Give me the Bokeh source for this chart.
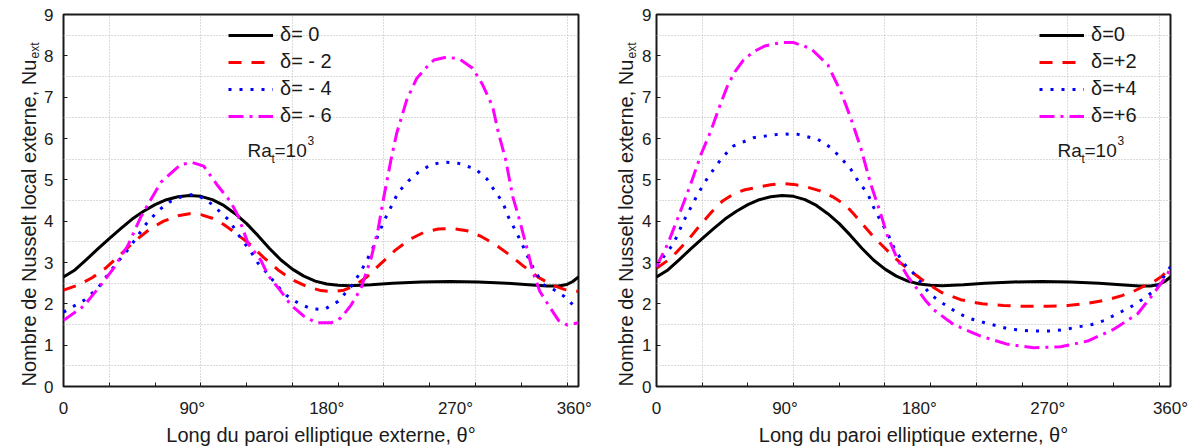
import math
from bokeh.plotting import figure
from bokeh.layouts import row
from bokeh.models import FixedTicker, Legend, LegendItem, Label, Range1d
from bokeh.embed import file_html
from bokeh.resources import INLINE

FONT = "Liberation Sans"

# ---------------- data (theta in degrees along the wall, Nu_ext) ----------------
# delta = 0 (same curve on both panels)
theta_d0 = [0, 8, 16, 24, 32, 40, 48, 56, 64, 72, 80, 88, 96, 104, 112, 120, 128, 136, 144, 152,
            160, 168, 176, 184, 192, 200, 215, 230, 250, 270, 290, 310, 325, 338, 346, 352, 356, 360]
nu_d0 = [2.65, 2.82, 3.07, 3.33, 3.58, 3.82, 4.05, 4.24, 4.40, 4.52, 4.59, 4.62, 4.60, 4.52, 4.38, 4.18,
         3.94, 3.65, 3.34, 3.06, 2.84, 2.67, 2.55, 2.48, 2.45, 2.44, 2.46, 2.50, 2.53, 2.54, 2.53, 2.50,
         2.46, 2.43, 2.43, 2.47, 2.54, 2.65]

# delta = -2
theta_m2 = [0, 10, 20, 30, 40, 50, 60, 70, 80, 88, 96, 104, 112, 120, 130, 140, 150, 160, 170, 180,
            188, 196, 204, 212, 222, 232, 242, 252, 262, 272, 282, 292, 302, 312, 322, 332, 342, 350, 360]
nu_m2 = [2.33, 2.45, 2.63, 2.88, 3.20, 3.52, 3.80, 4.00, 4.13, 4.18, 4.16, 4.07, 3.92, 3.72, 3.45, 3.12,
         2.82, 2.58, 2.42, 2.32, 2.29, 2.33, 2.45, 2.65, 2.98, 3.30, 3.56, 3.73, 3.81, 3.82, 3.77, 3.63,
         3.43, 3.18, 2.90, 2.64, 2.45, 2.35, 2.30]

# delta = -4
theta_m4 = [0, 7, 15, 24, 33, 40, 46, 57, 66, 75, 83, 91, 100, 108, 115, 119, 124, 131, 136, 143, 149,
            156, 164, 173, 182, 192, 201, 206, 211, 216, 224, 234, 241, 248, 257, 266, 276, 288, 296,
            302, 307, 311, 316, 321, 325, 330, 336, 342, 350, 360]
nu_m4 = [1.80, 1.94, 2.10, 2.38, 2.80, 3.10, 3.35, 3.90, 4.25, 4.48, 4.60, 4.65, 4.52, 4.27, 4.05, 3.85,
         3.58, 3.26, 2.98, 2.72, 2.45, 2.20, 2.02, 1.88, 1.86, 2.06, 2.42, 2.68, 2.98, 3.33, 4.00, 4.70,
         4.97, 5.18, 5.37, 5.43, 5.40, 5.26, 5.02, 4.70, 4.46, 4.10, 3.77, 3.41, 3.10, 2.76, 2.45, 2.36,
         2.18, 1.85]

# delta = -6
theta_m6 = [0, 14, 26, 35, 45, 54, 68, 82, 90, 98, 108, 117, 122, 129, 138, 143, 152, 159, 168, 177,
            187, 194, 201, 208, 215, 220, 224, 229, 233, 240, 247, 254, 259, 268, 277, 286, 293, 300,
            304, 309, 314, 319, 324, 328, 333, 339, 346, 352, 360]
nu_m6 = [1.60, 1.94, 2.45, 2.86, 3.41, 4.10, 4.94, 5.37, 5.42, 5.33, 4.85, 4.46, 4.13, 3.46, 3.05, 2.69,
         2.30, 1.97, 1.70, 1.54, 1.54, 1.66, 1.97, 2.38, 3.10, 3.82, 4.60, 5.50, 6.14, 6.94, 7.46, 7.73,
         7.90, 7.97, 7.92, 7.70, 7.30, 6.77, 6.14, 5.50, 4.60, 4.00, 3.34, 2.78, 2.30, 1.97, 1.60, 1.49,
         1.54]

# delta = +2
theta_p2 = [0, 10, 22, 30, 38, 46, 54, 62, 71, 80, 88, 96, 104, 114, 124, 132, 138, 145, 152, 159, 166,
            173, 180, 187, 193, 200, 213, 228, 243, 258, 274, 288, 300, 316, 326, 334, 341, 348, 354, 358, 360]
nu_p2 = [2.86, 3.10, 3.54, 3.88, 4.20, 4.48, 4.66, 4.76, 4.82, 4.88, 4.91, 4.89, 4.84, 4.74, 4.58, 4.40,
         4.18, 3.90, 3.62, 3.38, 3.14, 2.93, 2.74, 2.56, 2.42, 2.27, 2.10, 2.00, 1.96, 1.94, 1.94, 1.96,
         2.00, 2.10, 2.20, 2.30, 2.42, 2.53, 2.67, 2.80, 2.88]

# delta = +4
theta_p4 = [0, 5, 12, 19, 29, 36, 46, 54, 68, 87, 99, 113, 122, 129, 136, 141, 148, 152, 157, 162, 166,
            173, 180, 192, 201, 211, 220, 228, 237, 246, 255, 264, 276, 286, 295, 305, 314, 322, 331, 340,
            348, 355, 360]
nu_p4 = [2.90, 3.14, 3.46, 4.00, 4.66, 5.06, 5.54, 5.82, 6.02, 6.11, 6.10, 5.98, 5.78, 5.54, 5.26, 4.98,
         4.66, 4.34, 4.00, 3.70, 3.38, 2.98, 2.74, 2.22, 2.00, 1.78, 1.64, 1.56, 1.48, 1.40, 1.36, 1.34,
         1.34, 1.38, 1.44, 1.50, 1.60, 1.75, 1.90, 2.10, 2.30, 2.64, 2.90]

# delta = +6
theta_p6 = [0, 8, 17, 24, 31, 38, 45, 50, 55, 61, 68, 76, 87, 96, 108, 120, 129, 136, 143, 150, 157, 162,
            169, 176, 183, 188, 194, 208, 227, 246, 264, 283, 302, 320, 337, 348, 358, 360]
nu_p6 = [2.90, 3.46, 4.26, 4.90, 5.60, 6.18, 6.85, 7.30, 7.62, 7.90, 8.10, 8.24, 8.32, 8.32, 8.18, 7.78,
         7.14, 6.50, 5.78, 4.90, 4.18, 3.62, 3.06, 2.66, 2.34, 2.10, 1.86, 1.50, 1.22, 1.02, 0.94, 0.96,
         1.10, 1.38, 1.76, 2.24, 2.72, 2.90]

y_tick_values = [0, 1, 2, 3, 4, 5, 6, 7, 8, 9]
x_tick_texts = ["0", "90°", "180°", "270°", "360°"]
x_tick_pos_left = [0, 90, 184, 274, 357]
x_tick_pos_right = [0, 90, 184, 274, 360]
legend_left = ["δ= 0", "δ= - 2", "δ= - 4", "δ= - 6"]
legend_right = ["δ=0", "δ=+2", "δ=+4", "δ=+6"]
y_title = "Nombre de Nusselt local externe, Nu"
y_title_sub = "ext"
x_title = "Long du paroi elliptique externe, θ°"

COLORS = ["#000000", "#FF0000", "#0000FF", "#FF00FF"]
DASHES = ["solid", "13 10", "3 8", "15 6 3 6"]

x_minor = [32 * i for i in range(1, 12)]
x_grid = [32, 96, 160, 224, 288, 352]
y_grid = [0.5 + i for i in range(9)]

TXT = "#1a1a1a"


def title_strip(width, base_x, sub_x):
    """Narrow strip holding the rotated y-axis title (with subscript)."""
    s = figure(width=width, height=448, x_range=Range1d(0, 1), y_range=Range1d(0, 1),
               x_axis_type=None, y_axis_type=None, output_backend="svg", toolbar_location=None,
               min_border=0)
    s.outline_line_color = None
    s.background_fill_color = "white"
    s.border_fill_color = "white"
    common = dict(x_units="screen", y_units="screen", text_font=FONT, text_color=TXT,
                  text_align="left", text_baseline="alphabetic", angle=math.pi / 2)
    s.add_layout(Label(x=base_x, y=0, text=y_title, text_font_size="20px", **common))
    s.add_layout(Label(x=sub_x, y=328, text=y_title_sub, text_font_size="12px", **common))
    return s


def make_fig(width, bl, br, tick_pos, series, labels, leg_x, ra_x, ylab_standoff):
    p = figure(width=width, height=448, x_range=Range1d(0, 360), y_range=Range1d(0, 9),
               output_backend="svg", toolbar_location=None,
               min_border_left=bl, min_border_right=br, min_border_top=14, min_border_bottom=59)
    p.background_fill_color = "white"
    p.border_fill_color = "white"
    p.outline_line_color = TXT
    p.outline_line_width = 2

    p.xaxis.ticker = FixedTicker(ticks=tick_pos, minor_ticks=x_minor)
    p.xaxis.major_label_overrides = {t: s for t, s in zip(tick_pos, x_tick_texts)}
    p.xaxis.major_tick_line_color = None
    p.xaxis.minor_tick_in = 4
    p.xaxis.minor_tick_out = 0
    p.xaxis.minor_tick_line_color = TXT
    p.xaxis.major_label_standoff = 6
    p.xaxis.axis_label = x_title
    p.xaxis.axis_label_standoff = 3

    p.yaxis.ticker = FixedTicker(ticks=y_tick_values)
    p.yaxis.major_tick_in = 4
    p.yaxis.major_tick_out = 0
    p.yaxis.major_tick_line_color = TXT
    p.yaxis.minor_tick_line_color = None
    p.yaxis.major_label_standoff = ylab_standoff

    for ax in (p.xaxis[0], p.yaxis[0]):
        ax.axis_line_color = None
        ax.major_label_text_font = FONT
        ax.major_label_text_font_size = "17px"
        ax.major_label_text_color = TXT
        ax.axis_label_text_font = FONT
        ax.axis_label_text_font_size = "20px"
        ax.axis_label_text_font_style = "normal"
        ax.axis_label_text_color = TXT

    p.xgrid.ticker = FixedTicker(ticks=x_grid)
    p.ygrid.ticker = FixedTicker(ticks=y_grid)
    for g in (p.xgrid[0], p.ygrid[0]):
        g.grid_line_color = "#b4b4b4"
        g.grid_line_dash = "1 2"
        g.grid_line_width = 1

    items = []
    for (xs, ys), col, dash, lab in zip(series, COLORS, DASHES, labels):
        r = p.line(xs, ys, line_color=col, line_width=3, line_dash=dash, line_join="round")
        items.append(LegendItem(label=lab, renderers=[r]))

    leg = Legend(items=items, location=(leg_x, 259), glyph_width=45, glyph_height=20,
                 label_height=20, label_standoff=7, spacing=4, padding=0, margin=0,
                 border_line_color=None, background_fill_alpha=0,
                 label_text_font=FONT, label_text_font_size="20px", label_text_color=TXT)
    p.add_layout(leg)

    common = dict(x_units="screen", y_units="screen", text_font=FONT, text_color=TXT,
                  text_align="left", text_baseline="alphabetic")
    p.add_layout(Label(x=ra_x, y=236, text="Ra", text_font_size="19px", **common))
    p.add_layout(Label(x=ra_x + 24, y=228, text="t", text_font_size="12px", **common))
    p.add_layout(Label(x=ra_x + 27, y=236, text="=10", text_font_size="19px", **common))
    p.add_layout(Label(x=ra_x + 60, y=246, text="3", text_font_size="12px", **common))
    return p


left_series = [(theta_d0, nu_d0), (theta_m2, nu_m2), (theta_m4, nu_m4), (theta_m6, nu_m6)]
right_series = [(theta_d0, nu_d0), (theta_p2, nu_p2), (theta_p4, nu_p4), (theta_p6, nu_p6)]

s1 = title_strip(41, 28, 34)
p1 = make_fig(559, 22, 22, x_tick_pos_left, left_series, legend_left, 165, 184, 10)
s2 = title_strip(39, 25, 31)
p2 = make_fig(564, 17, 33, x_tick_pos_right, right_series, legend_right, 383, 401, 5)

layout = row(s1, p1, s2, p2)
open("out.html", "w").write(file_html(layout, INLINE))
